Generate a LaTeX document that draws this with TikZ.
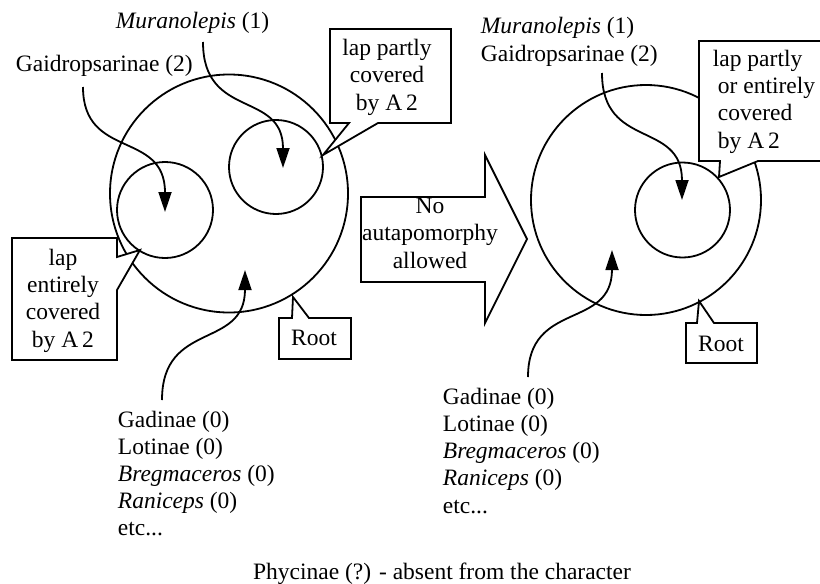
\documentclass[tikz,border=0pt]{standalone}
\usepackage{fontspec}
\setmainfont{Liberation Serif}
\usetikzlibrary{arrows.meta}
\begin{document}
\begin{tikzpicture}[x=1pt,y=-1pt,line width=1.8pt,
  txt/.style={inner sep=0pt,font=\fontsize{23.5}{27.2}\selectfont},
  ring/.style={circle,draw,inner sep=0pt},
  conn/.style={-{Triangle[length=20pt,width=13pt]}},
  callout/.style={draw,fill=white,line join=miter}]
\useasboundingbox (0,0) rectangle (820,584);
% circles
\node[ring,minimum size=238pt] (bigL) at (229,193.5) {};
\node[ring,minimum size=96pt] (sL1) at (165,210) {};
\node[ring,minimum size=94pt] (sL2) at (276,167) {};
\node[ring,minimum size=230pt] (bigR) at (646,200) {};
\node[ring,minimum size=95pt] (sR) at (682.5,210) {};
% texts (multi-line nodes: base = baseline of last line)
\node[txt,anchor=base west] (muraL) at (115,28) {\textit{Muranolepis} (1)};
\node[txt,anchor=base west] (gaidL) at (15,71) {Gaidropsarinae (2)};
\node[txt,anchor=base west,align=left] (muraR) at (480,61) {\textit{Muranolepis} (1)\\Gaidropsarinae (2)};
\node[txt,anchor=base west,align=left,font=\fontsize{23.5}{27}\selectfont] (listL) at (117,535) {Gadinae (0)\\Lotinae (0)\\\textit{Bregmaceros} (0)\\\textit{Raniceps} (0)\\etc...};
\node[txt,anchor=base west,align=left,font=\fontsize{23.5}{27.2}\selectfont] (listR) at (442,513) {Gadinae (0)\\Lotinae (0)\\\textit{Bregmaceros} (0)\\\textit{Raniceps} (0)\\etc...};
\node[txt,anchor=base] (phy) at (442,579) {Phycinae (?) - absent from the character};
% connectors
\coordinate (gaidS) at (83,87);   \coordinate (gaidE) at (165,212);
\coordinate (muraS) at (203,42);  \coordinate (muraE) at (283,168);
\coordinate (listLS) at (162,400); \coordinate (listLE) at (245,270);
\coordinate (muraRS) at (602,73); \coordinate (muraRE) at (682,200);
\coordinate (listRS) at (528,377); \coordinate (listRE) at (612,250);
\draw[conn] (gaidS) .. controls (83,160) and (165,130) .. (gaidE);
\draw[conn] (muraS) .. controls (203,120) and (283,90) .. (muraE);
\draw[conn] (listLS) .. controls (162,320) and (245,350) .. (listLE);
\draw[conn] (muraRS) .. controls (602,150) and (682,120) .. (muraRE);
\draw[conn] (listRS) .. controls (528,300) and (612,330) .. (listRE);
% callouts
\draw[callout] (12,238) -- (117,238) -- (117,257) -- (140,250) -- (117,290) -- (117,360) -- (12,360) -- cycle;
\node[txt,align=center,anchor=base] (lapL) at (63,347) {lap\\entirely\\covered\\by A\,2};
\draw[callout] (330,29) -- (451,29) -- (451,123) -- (378,123) -- (323,155) -- (349,123) -- (330,123) -- cycle;
\node[txt,align=center,anchor=base] (lapM) at (387,110) {lap partly\\covered\\by A\,2};
\draw[callout] (699,41) -- (826,41) -- (826,161) -- (758,161) -- (719,177) -- (720,161) -- (699,161) -- cycle;
\node[txt,align=left,anchor=base west] (lapR) at (712,148) {lap partly\\\hspace*{5pt}or entirely\\\hspace*{5pt}covered\\\hspace*{5pt}by A\,2};
\draw[callout] (279,318) -- (292,318) -- (293,297) -- (309,318) -- (351,318) -- (351,359) -- (279,359) -- cycle;
\node[txt,anchor=base] (rootL) at (314,345) {Root};
\draw[callout] (686,323) -- (697,323) -- (699,301) -- (714,323) -- (757,323) -- (757,363) -- (686,363) -- cycle;
\node[txt,anchor=base] (rootR) at (721,351) {Root};
% big arrow
\draw[callout] (361,197) -- (485,197) -- (485,155) -- (527,239) -- (485,323) -- (485,282) -- (361,282) -- cycle;
\node[txt,align=center,anchor=base] (noaut) at (430,268) {No\\autapomorphy\\allowed};
\end{tikzpicture}
\end{document}
